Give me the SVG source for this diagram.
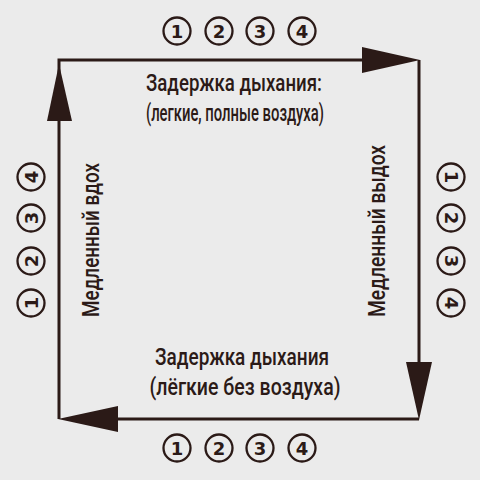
<svg xmlns="http://www.w3.org/2000/svg" width="480" height="480" viewBox="0 0 480 480">
<style>
.ln{fill:none;stroke:#2b1a17;stroke-width:3}
.ah{fill:#2b1a17}
.t{font-family:Roboto,"Liberation Sans",sans-serif;font-size:23px;font-weight:500;fill:#2b1a17;text-anchor:middle}
.c{fill:none;stroke:#2b1a17;stroke-width:2.3}
.n{font-family:"DejaVu Sans",sans-serif;font-weight:bold;font-size:18px;fill:#2b1a17;text-anchor:middle}
</style>
<defs>
<g id="badge"><circle class="c" cx="0" cy="0" r="13.5"/></g>
</defs>
<rect width="480" height="480" fill="#ebebeb"/>
<g id="connectors">
<path class="ln" d="M59,121 V60 H362"/>
<path class="ln" d="M419,60 V362"/>
<path class="ln" d="M419,419 H118"/>
<path class="ln" d="M59,419 V121"/>
<polygon class="ah" points="420,60 362,47 362,73"/>
<polygon class="ah" points="419,420 406,362 432,362"/>
<polygon class="ah" points="58,419 118,406 118,432"/>
<polygon class="ah" points="59,64 47,121 72,121"/>
</g>
<g id="hold-top">
<text class="t" x="234" y="91" textLength="176" lengthAdjust="spacingAndGlyphs">Задержка дыхания:</text>
<text class="t" x="235" y="121" textLength="178" lengthAdjust="spacingAndGlyphs">(легкие, полные воздуха)</text>
</g>
<g id="hold-bottom">
<text class="t" x="242" y="365" textLength="174" lengthAdjust="spacingAndGlyphs">Задержка дыхания</text>
<text class="t" x="245" y="395" textLength="191" lengthAdjust="spacingAndGlyphs">(лёгкие без воздуха)</text>
</g>
<g id="inhale">
<text class="t" transform="translate(99,240) rotate(-90)" x="0" y="0" textLength="154" lengthAdjust="spacingAndGlyphs">Медленный вдох</text>
</g>
<g id="exhale">
<text class="t" transform="translate(385,231) rotate(-90)" x="0" y="0" textLength="172" lengthAdjust="spacingAndGlyphs">Медленный выдох</text>
</g>
<g id="count-top">
<use href="#badge" x="177" y="31"/><text class="n" x="177" y="37.5">1</text>
<use href="#badge" x="219" y="31"/><text class="n" x="219" y="37.5">2</text>
<use href="#badge" x="260" y="31"/><text class="n" x="260" y="37.5">3</text>
<use href="#badge" x="302" y="31"/><text class="n" x="302" y="37.5">4</text>
</g>
<g id="count-bottom">
<use href="#badge" x="177" y="448"/><text class="n" x="177" y="454.5">1</text>
<use href="#badge" x="219" y="448"/><text class="n" x="219" y="454.5">2</text>
<use href="#badge" x="260" y="448"/><text class="n" x="260" y="454.5">3</text>
<use href="#badge" x="302" y="448"/><text class="n" x="302" y="454.5">4</text>
</g>
<g id="count-left">
<use href="#badge" x="31" y="303"/><text class="n" transform="translate(31,303) rotate(-90)" y="6.5">1</text>
<use href="#badge" x="31" y="261"/><text class="n" transform="translate(31,261) rotate(-90)" y="6.5">2</text>
<use href="#badge" x="31" y="218"/><text class="n" transform="translate(31,218) rotate(-90)" y="6.5">3</text>
<use href="#badge" x="31" y="177"/><text class="n" transform="translate(31,177) rotate(-90)" y="6.5">4</text>
</g>
<g id="count-right">
<use href="#badge" x="451" y="177"/><text class="n" transform="translate(451,177) rotate(90)" y="6.5">1</text>
<use href="#badge" x="451" y="218"/><text class="n" transform="translate(451,218) rotate(90)" y="6.5">2</text>
<use href="#badge" x="451" y="261"/><text class="n" transform="translate(451,261) rotate(90)" y="6.5">3</text>
<use href="#badge" x="451" y="303"/><text class="n" transform="translate(451,303) rotate(90)" y="6.5">4</text>
</g>
</svg>
